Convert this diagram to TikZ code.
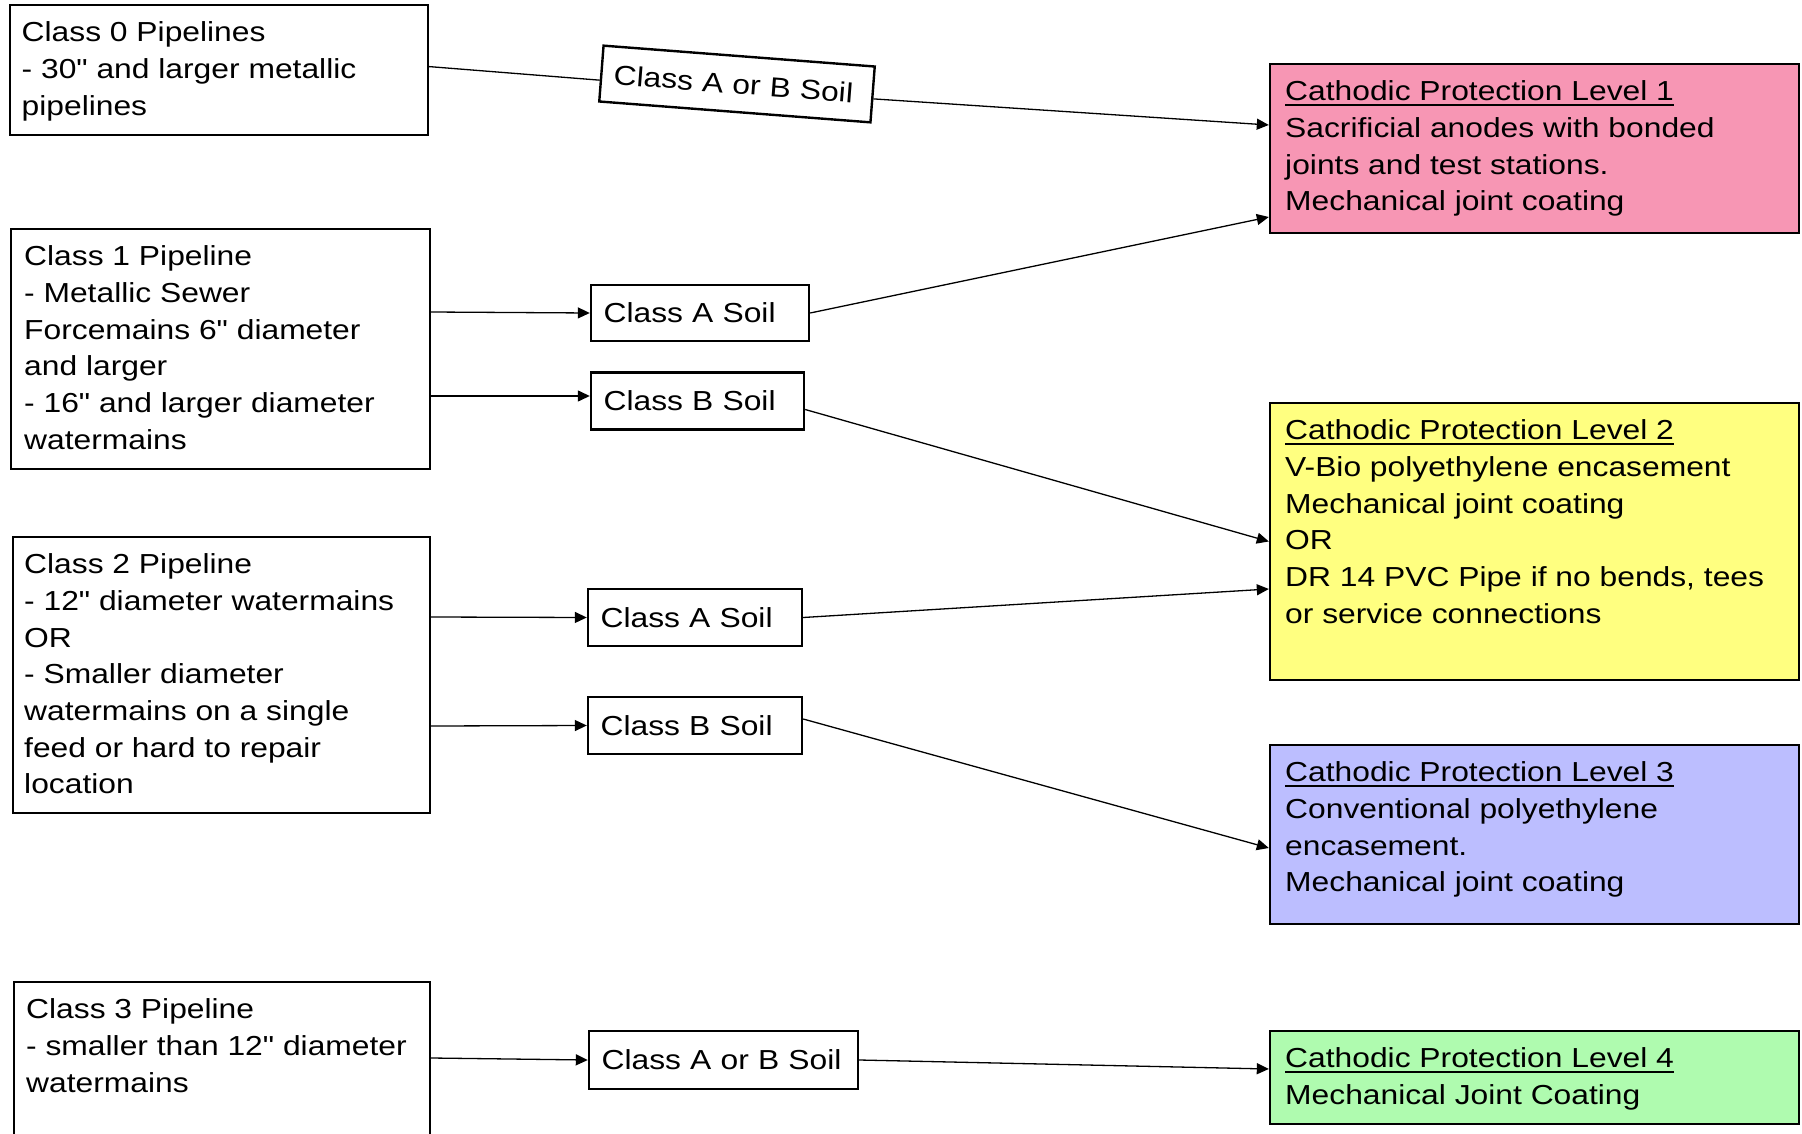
\documentclass[tikz,border=0pt]{standalone}
\usepackage{fontspec}
\setmainfont{Liberation Sans}[FakeStretch=1.156,Ligatures=TeXOff]
\usetikzlibrary{arrows.meta,calc,fit}
\definecolor{cpone}{HTML}{F796B4}
\definecolor{cptwo}{HTML}{FFFF80}
\definecolor{cpthree}{HTML}{BCBEFF}
\definecolor{cpfour}{HTML}{AFFBAF}
\newcommand\ulx[1]{\setbox0\hbox{#1}\rlap{\rule[-5pt]{\wd0}{1.6pt}}\box0}
\newcommand\fl{\rule{0pt}{26pt}}
\begin{document}
\begin{tikzpicture}[x=1pt,y=-1pt,
  box/.style={draw=black,line width=2.4pt,inner sep=0pt},
  txt/.style={anchor=north west,inner sep=0pt,align=left,font=\fontsize{27.5}{36.7}\selectfont},
  soil/.style={draw=black,line width=2.4pt,inner ysep=0pt,inner xsep=12.6pt,align=left,font=\fontsize{27.5}{36.7}\selectfont},
  conn/.style={line width=1.3pt,-{Triangle[length=12pt,width=11pt]}},
  plainline/.style={line width=1.3pt}]
\useasboundingbox (0,0) rectangle (1802,1134);
\clip (0,0) rectangle (1802,1134);
\fill[white] (0,0) rectangle (1802,1134);

% left boxes
\node[box,fit={(10,5) (428,135)}] (c0) {};
\node[box,fit={(11,229) (430,469)}] (c1) {};
\node[box,fit={(13,537) (430,813)}] (c2) {};
\node[box,fit={(14,982) (430,1160)}] (c3) {};

\node[txt] (c0t) at (21.5,15.8) {\fl Class 0 Pipelines\\- 30" and larger metallic\\pipelines};
\node[txt] (c1t) at (24,239.5) {\fl Class 1 Pipeline\\- Metallic Sewer\\Forcemains 6" diameter\\and larger\\- 16" and larger diameter\\watermains};
\node[txt] (c2t) at (24,547.5) {\fl Class 2 Pipeline\\- 12" diameter watermains\\OR\\- Smaller diameter\\watermains on a single\\feed or hard to repair\\location};
\node[txt] (c3t) at (26,992.5) {\fl Class 3 Pipeline\\- smaller than 12" diameter\\watermains};

% right boxes
\node[box,fill=cpone,fit={(1270,64) (1799,233)}] (cp1) {};
\node[box,fill=cptwo,fit={(1270,403) (1799,680)}] (cp2) {};
\node[box,fill=cpthree,fit={(1270,745) (1799,924)}] (cp3) {};
\node[box,fill=cpfour,fit={(1270,1031) (1799,1124)}] (cp4) {};

\node[txt] (cp1t) at (1285,74.5) {\fl\ulx{Cathodic Protection Level 1}\\Sacrificial anodes with bonded\\joints and test stations.\\Mechanical joint coating};
\node[txt] (cp2t) at (1285,413.5) {\fl\ulx{Cathodic Protection Level 2}\\V-Bio polyethylene encasement\\Mechanical joint coating\\OR\\DR 14 PVC Pipe if no bends, tees\\or service connections};
\node[txt] (cp3t) at (1285,755.5) {\fl\ulx{Cathodic Protection Level 3}\\Conventional polyethylene\\encasement.\\Mechanical joint coating};
\node[txt] (cp4t) at (1285,1041.5) {\fl\ulx{Cathodic Protection Level 4}\\Mechanical Joint Coating};

% soil boxes
\node[soil,rotate=-4.4,minimum height=56pt,text width=246.8pt] (s0) at (737,84) {Class A or B Soil};
\node[soil,minimum height=56pt,text width=192.8pt] (s1a) at (700,313) {Class A Soil};
\node[soil,minimum height=57pt,text width=187.8pt] (s1b) at (697.5,401) {Class B Soil};
\node[soil,minimum height=57pt,text width=188.8pt] (s2a) at (695,617.5) {Class A Soil};
\node[soil,minimum height=57pt,text width=188.8pt] (s2b) at (695,725.5) {Class B Soil};
\node[soil,minimum height=58pt,text width=243.8pt] (s3) at (723.5,1060) {Class A or B Soil};

% connectors
\draw[plainline] ($(c0.east)+(0,-3.4)$) -- ($(s0.west)!0.23!(s0.south west)$);
\draw[conn] ($(s0.east)!0.15!(s0.south east)$) -- ($(cp1.west)+(0,-23.5)$);
\draw[conn] ($(c1.east)+(0,-37)$) -- (s1a.west);
\draw[conn] ($(c1.east)+(0,47)$) -- ($(s1b.west)+(0,-5)$);
\draw[conn] (s1a.east) -- ($(cp1.west)+(0,68.5)$);
\draw[conn] ($(s1b.east)+(0,8.5)$) -- (cp2.west);
\draw[conn] ($(c2.east)+(0,-58)$) -- (s2a.west);
\draw[conn] ($(c2.east)+(0,51)$) -- (s2b.west);
\draw[conn] (s2a.east) -- ($(cp2.west)+(0,47.5)$);
\draw[conn] ($(s2b.east)+(0,-6.5)$) -- ($(cp3.west)+(0,13.5)$);
\draw[conn] ($(c3.east)+(0,-13)$) -- (s3.west);
\draw[conn] (s3.east) -- ($(cp4.west)+(0,-8.5)$);
\end{tikzpicture}
\end{document}
